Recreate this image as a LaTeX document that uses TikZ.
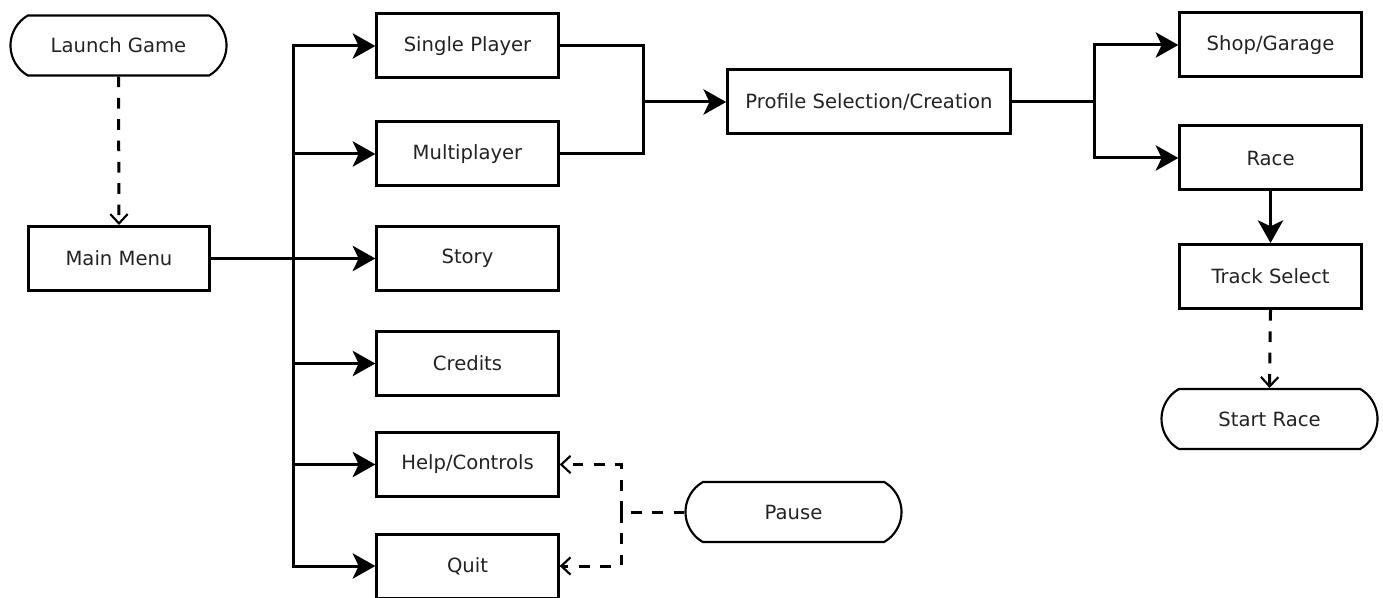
\documentclass[tikz,border=0pt]{standalone}
\usepackage{fontspec}
\setmainfont{DejaVu Sans}
\usetikzlibrary{arrows.meta,shapes.misc}
\definecolor{txt}{HTML}{222222}
\tikzset{
  box/.style={draw=black, line width=2.25pt, rectangle, minimum width=136pt, minimum height=48pt, inner sep=0pt, text=txt, font=\fontsize{14.7}{17}\selectfont},
  term/.style={draw=black, line width=1.6pt, rounded rectangle, rounded rectangle arc length=120, minimum width=162pt, minimum height=45pt, inner sep=0pt, text=txt, font=\fontsize{14.7}{17}\selectfont},
  conn/.style={line width=2.25pt, draw=black, line cap=rect},
  arr/.style={conn, -{Stealth[length=17pt, width=19pt, inset=4.5pt]}},
  dconn/.style={line width=2.25pt, draw=black, dash pattern=on 8pt off 8pt},
  darr/.style={dconn, -{Straight Barb[length=7pt, width=13pt, line width=1.6pt]}}
}
\begin{document}
\begin{tikzpicture}[x=0.75pt, y=-0.75pt]
\useasboundingbox (0,0) rectangle (1383,598);
% nodes
\node[term] (launch) at (118.5,45.5) {Launch Game};
\node[box] (mm) at (119,258.5) {Main Menu};
\node[box] (sp) at (467.5,46) {Single Player};
\node[box] (mp) at (467.5,154) {Multiplayer};
\node[box] (story) at (467.5,258.5) {Story};
\node[box] (cred) at (467.5,363.5) {Credits};
\node[box] (help) at (467.5,464.5) {Help/Controls};
\node[box] (quit) at (467.5,566) {Quit};
\node[box, minimum width=212pt] (prof) at (869,102) {Profile Selection/Creation};
\node[box] (shop) at (1270.5,45) {Shop/Garage};
\node[box] (race) at (1270.5,158) {Race};
\node[box] (track) at (1270.5,276.5) {Track Select};
\node[term] (start) at (1269.5,419) {Start Race};
\node[term] (pause) at (793.5,512) {Pause};
% junctions
\coordinate (bus) at (293,258.5);
\coordinate (j1) at (643,102);
\coordinate (j2) at (1094,102);
\coordinate (pj) at (621,512);
% connectors
\draw[darr] (launch.south) -- (mm.north);
\draw[arr] (mm.east) -- (story.west);
\draw[conn] (bus |- sp.west) -- (bus |- quit.west);
\draw[arr] (bus |- sp.west) -- (sp.west);
\draw[arr] (bus |- mp.west) -- (mp.west);
\draw[arr] (bus |- cred.west) -- (cred.west);
\draw[arr] (bus |- help.west) -- (help.west);
\draw[arr] (bus |- quit.west) -- (quit.west);
\draw[conn] (sp.east) -| (j1) |- (mp.east);
\draw[arr] (j1) -- (prof.west);
\draw[conn] (prof.east) -- (j2);
\draw[arr] (j2) |- (shop.west);
\draw[arr] (j2) |- (race.west);
\draw[arr] (race.south) -- (track.north);
\draw[darr] (track.south) -- (start.north);
\draw[dconn] (pause.west) -- (pj);
\draw[darr] (pj) |- (help.east);
\draw[darr] (pj) |- (quit.east);
\end{tikzpicture}
\end{document}
